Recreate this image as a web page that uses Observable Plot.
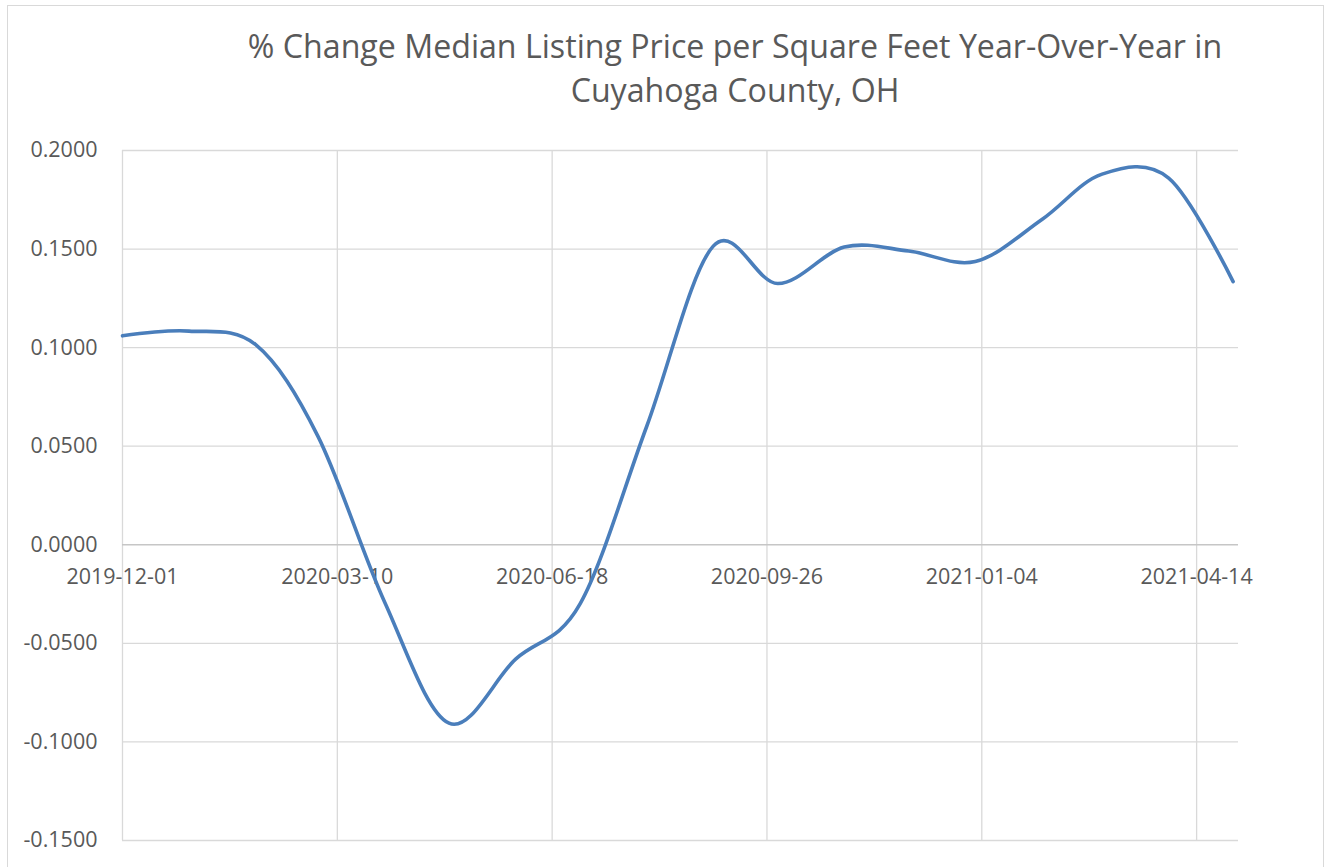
<!DOCTYPE html>
<html>
<head>
<meta charset="utf-8">
<script src="https://cdn.jsdelivr.net/npm/d3@7"></script>
<script src="https://cdn.jsdelivr.net/npm/@observablehq/plot@0.6"></script>
<style>
html, body { margin: 0; padding: 0; background: #fff; }
#wrap { position: relative; width: 1331px; height: 867px; overflow: hidden; font-family: "Open Sans", sans-serif; }
#border { position: absolute; left: 7px; top: 5px; width: 1317px; height: 900px; border: 1.5px solid #d9d9d9; box-sizing: border-box; }
#title { position: absolute; left: 185px; width: 1100px; top: 24px; text-align: center; color: #595959; line-height: 44px; white-space: nowrap; }
#chart { position: absolute; left: 0; top: 120px; }
</style>
</head>
<body>
<div id="wrap">
  <div id="border"></div>
  <div id="title"></div>
  <div id="chart"></div>
</div>
<script>
// ---- data ----
const titleLines = ["% Change Median Listing Price per Square Feet Year-Over-Year in", "Cuyahoga County, OH"];
const months = ["2019-12-01","2020-01-01","2020-02-01","2020-03-01","2020-04-01","2020-05-01",
                "2020-06-01","2020-07-01","2020-08-01","2020-09-01","2020-10-01","2020-11-01",
                "2020-12-01","2021-01-01","2021-02-01","2021-03-01","2021-04-01","2021-05-01"];
const pctChange = [0.1060, 0.1084, 0.1015, 0.0550, -0.0290, -0.0905,
                   -0.0580, -0.0300, 0.0600, 0.1515, 0.1325, 0.1510,
                   0.1490, 0.1437, 0.1650, 0.1880, 0.1860, 0.1335];
const xTickLabels = ["2019-12-01","2020-03-10","2020-06-18","2020-09-26","2021-01-04","2021-04-14"];
const yTicks = [-0.15, -0.10, -0.05, 0, 0.05, 0.10, 0.15, 0.20];
const xDomain = ["2019-12-01T00:00Z", "2021-05-03T12:00Z"];
const yDomain = [-0.15, 0.20];

// ---- title ----
const titleEl = document.getElementById("title");
const ctx = document.createElement("canvas").getContext("2d");
ctx.font = '30px "Open Sans"';
const w30 = ctx.measureText(titleLines[0]).width;
let fs = 30 * 975 / w30;
fs = Math.max(26, Math.min(34, fs));
titleEl.style.fontSize = fs + "px";
titleLines.forEach(t => { const d = document.createElement("div"); d.textContent = t; titleEl.appendChild(d); });

// ---- chart ----
const data = months.map((m, i) => ({date: new Date(m + "T00:00Z"), value: pctChange[i]}));
const xTicks = xTickLabels.map(s => ({date: new Date(s + "T00:00Z"), label: s}));
const fmt = d => (Math.abs(d) < 1e-12 ? 0 : d).toFixed(4);

const chart = Plot.plot({
  width: 1331,
  height: 747,
  marginTop: 30,
  marginBottom: 27,
  marginLeft: 122,
  marginRight: 93,
  style: {fontFamily: '"Open Sans", sans-serif', fontSize: "21.5px", color: "#595959", background: "transparent"},
  x: {type: "utc", domain: xDomain.map(s => new Date(s)), axis: null},
  y: {domain: yDomain, axis: null},
  marks: [
    Plot.ruleY(yTicks.filter(t => t !== 0), {y: d => d, stroke: "#d9d9d9", strokeWidth: 1.3}),
    Plot.ruleX(xTicks, {x: "date", stroke: "#d9d9d9", strokeWidth: 1.3}),
    Plot.ruleY([0], {stroke: "#c6c6c6", strokeWidth: 1.6}),
    Plot.axisY({ticks: yTicks, tickSize: 0, tickPadding: 25, tickFormat: fmt, label: null, fill: "#595959"}),
    Plot.text(xTicks, {x: "date", y: () => 0, text: "label", dy: 32, fill: "#595959", fontSize: 21.5}),
    Plot.line(data, {x: "date", y: "value", curve: "cardinal", stroke: "#4a7ebb", strokeWidth: 3.6, strokeLinecap: "round", strokeLinejoin: "round"})
  ]
});
document.getElementById("chart").appendChild(chart);
</script>
</body>
</html>
